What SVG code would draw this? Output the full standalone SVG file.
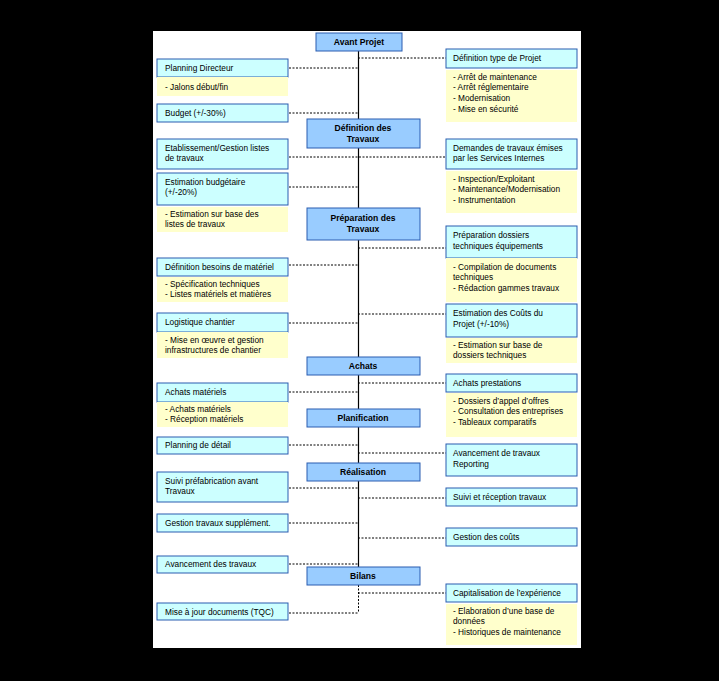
<svg xmlns="http://www.w3.org/2000/svg" width="719" height="681" viewBox="0 0 719 681">
<style>
text{font-family:"Liberation Sans",Arial,sans-serif;font-size:8.3px;fill:#000}
.b{fill:#ccffff;stroke:#2a5db0;stroke-width:1}
.s{fill:#99ccff;stroke:#2a5db0;stroke-width:1}
.y{fill:#ffffcc}
.st{font-weight:bold;font-size:8.6px;text-anchor:middle}
.d{stroke:#000;stroke-width:1;stroke-dasharray:2,1.5;fill:none}
</style>
<rect width="719" height="681" fill="#000"/>
<rect x="153" y="31" width="428" height="617" fill="#fff"/>
<g id="connectors">
<line x1="358.5" y1="51" x2="358.5" y2="567" stroke="#000" stroke-width="1.2"/>
<path class="d" d="M358.5 585V613M289 613H358.5"/>
<path class="d" d="M289 68H358M289 113H358M289 157H446M289 187H358M358 58H446M358 248H446M289 265H358M289 323H358M358 314H446M358 383H446M289 392H358M289 445H358M358 453H446M289 488H358M358 498H446M289 523H358M358 538H446M289 564H358M358 593H446"/>
</g>
<g id="stages">
<rect class="s" x="316" y="33" width="86" height="18"/><text class="st" x="359" y="45">Avant Projet</text>
<rect class="s" x="307" y="119" width="113" height="29"/><text class="st" x="363" y="131">Définition des</text><text class="st" x="363" y="142">Travaux</text>
<rect class="s" x="307" y="208" width="113" height="32"/><text class="st" x="363" y="221">Préparation des</text><text class="st" x="363" y="232">Travaux</text>
<rect class="s" x="307" y="357" width="113" height="18"/><text class="st" x="363" y="369">Achats</text>
<rect class="s" x="307" y="409" width="113" height="18"/><text class="st" x="363" y="421">Planification</text>
<rect class="s" x="307" y="463" width="113" height="18"/><text class="st" x="363" y="475">Réalisation</text>
<rect class="s" x="307" y="567" width="113" height="18"/><text class="st" x="363" y="579">Bilans</text>
</g>
<g id="left">
<rect class="b" x="157" y="59" width="131" height="18"/><text x="165" y="71">Planning Directeur</text>
<rect class="y" x="157" y="77" width="131" height="19"/><text x="165" y="90">- Jalons début/fin</text>
<rect class="b" x="157" y="104" width="131" height="18"/><text x="165" y="116">Budget (+/-30%)</text>
<rect class="b" x="157" y="139" width="131" height="30"/><text x="165" y="151">Etablissement/Gestion listes</text><text x="165" y="161">de travaux</text>
<rect class="b" x="157" y="173" width="131" height="32"/><text x="165" y="185">Estimation budgétaire</text><text x="165" y="195">(+/-20%)</text>
<rect class="y" x="157" y="207" width="131" height="25"/><text x="165" y="217">- Estimation sur base des</text><text x="165" y="227">listes de travaux</text>
<rect class="b" x="157" y="258" width="131" height="18"/><text x="165" y="270">Définition besoins de matériel</text>
<rect class="y" x="157" y="277" width="131" height="25"/><text x="165" y="287">- Spécification techniques</text><text x="165" y="297">- Listes matériels et matières</text>
<rect class="b" x="157" y="313" width="131" height="19"/><text x="165" y="325">Logistique chantier</text>
<rect class="y" x="157" y="332" width="131" height="26"/><text x="165" y="343">- Mise en œuvre et gestion</text><text x="165" y="353">infrastructures de chantier</text>
<rect class="b" x="157" y="383" width="131" height="19"/><text x="165" y="395">Achats matériels</text>
<rect class="y" x="157" y="402" width="131" height="25"/><text x="165" y="412">- Achats matériels</text><text x="165" y="422">- Réception matériels</text>
<rect class="b" x="157" y="437" width="131" height="17"/><text x="165" y="448">Planning de détail</text>
<rect class="b" x="157" y="472" width="131" height="30"/><text x="165" y="484">Suivi préfabrication avant</text><text x="165" y="494">Travaux</text>
<rect class="b" x="157" y="514" width="131" height="18"/><text x="165" y="526">Gestion travaux supplément.</text>
<rect class="b" x="157" y="556" width="131" height="17"/><text x="165" y="567">Avancement des travaux</text>
<rect class="b" x="157" y="603" width="131" height="17"/><text x="165" y="615">Mise à jour documents (TQC)</text>
</g>
<g id="right">
<rect class="b" x="446" y="49" width="131" height="19"/><text x="453" y="61">Définition type de Projet</text>
<rect class="y" x="446" y="70" width="131" height="52"/><text x="453" y="80">- Arrêt de maintenance</text><text x="453" y="90">- Arrêt réglementaire</text><text x="453" y="101">- Modernisation</text><text x="453" y="112">- Mise en sécurité</text>
<rect class="b" x="446" y="139" width="131" height="30"/><text x="453" y="151">Demandes de travaux émises</text><text x="453" y="161">par les Services Internes</text>
<rect class="y" x="446" y="171" width="131" height="42"/><text x="453" y="182">- Inspection/Exploitant</text><text x="453" y="192">- Maintenance/Modernisation</text><text x="453" y="203">- Instrumentation</text>
<rect class="b" x="446" y="226" width="131" height="32"/><text x="453" y="238">Préparation dossiers</text><text x="453" y="249">techniques équipements</text>
<rect class="y" x="446" y="258" width="131" height="44"/><text x="453" y="270">- Compilation de documents</text><text x="453" y="280">techniques</text><text x="453" y="291">- Rédaction gammes travaux</text>
<rect class="b" x="446" y="304" width="131" height="33"/><text x="453" y="316">Estimation des Coûts du</text><text x="453" y="327">Projet (+/-10%)</text>
<rect class="y" x="446" y="338" width="131" height="25"/><text x="453" y="348">- Estimation sur base de</text><text x="453" y="358">dossiers techniques</text>
<rect class="b" x="446" y="374" width="131" height="18"/><text x="453" y="386">Achats prestations</text>
<rect class="y" x="446" y="393" width="131" height="44"/><text x="453" y="404">- Dossiers d’appel d’offres</text><text x="453" y="414">- Consultation des entreprises</text><text x="453" y="425">- Tableaux comparatifs</text>
<rect class="b" x="446" y="444" width="131" height="32"/><text x="453" y="456">Avancement de travaux</text><text x="453" y="467">Reporting</text>
<rect class="b" x="446" y="488" width="131" height="18"/><text x="453" y="500">Suivi et réception travaux</text>
<rect class="b" x="446" y="528" width="131" height="18"/><text x="453" y="540">Gestion des coûts</text>
<rect class="b" x="446" y="584" width="131" height="18"/><text x="453" y="596">Capitalisation de l’expérience</text>
<rect class="y" x="446" y="604" width="131" height="41"/><text x="453" y="614">- Elaboration d’une base de</text><text x="453" y="624">données</text><text x="453" y="635">- Historiques de maintenance</text>
</g>
</svg>
